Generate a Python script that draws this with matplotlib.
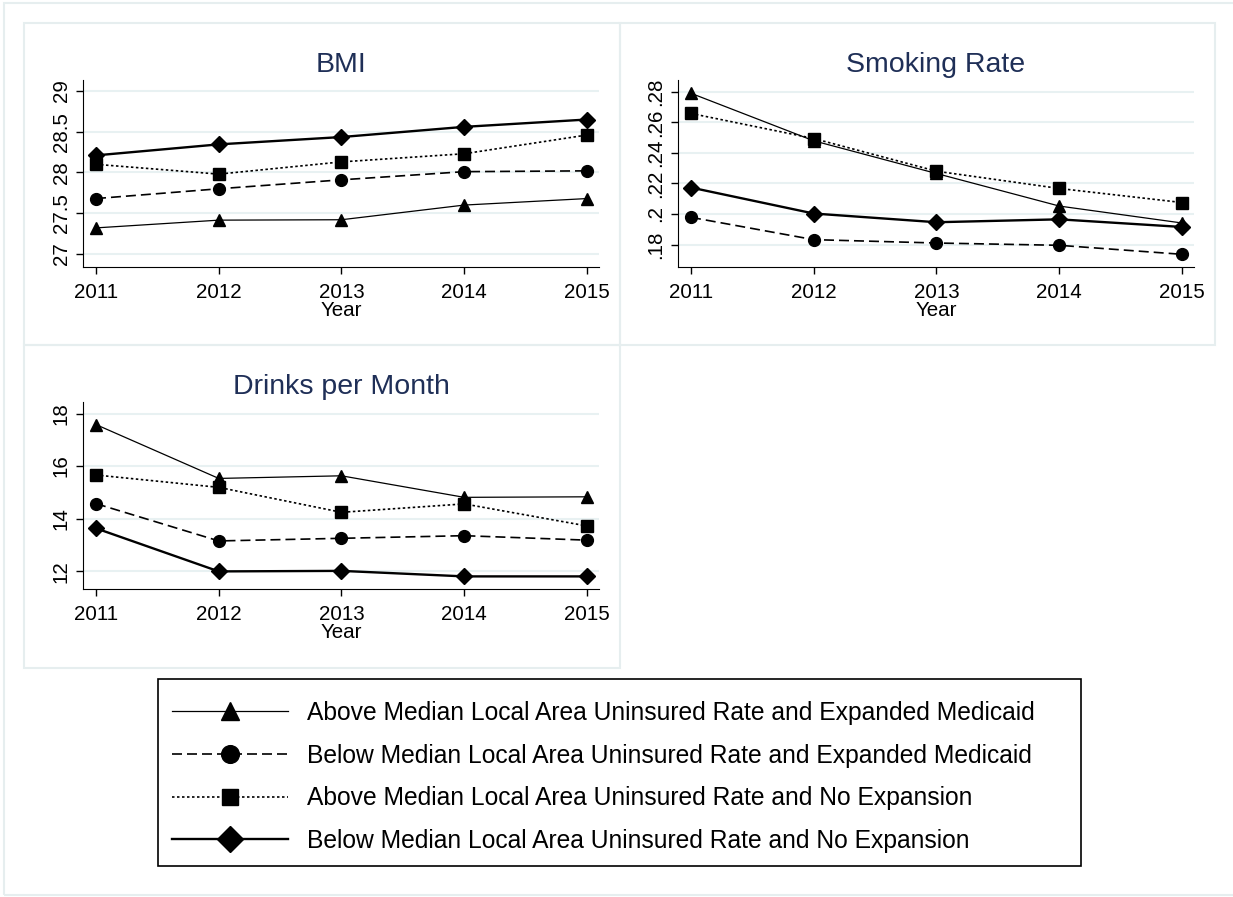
import matplotlib
matplotlib.use('Agg')
import matplotlib.pyplot as plt
from matplotlib.patches import Rectangle
from matplotlib.lines import Line2D

plt.rcParams['font.family'] = ['Liberation Sans', 'DejaVu Sans']

# data
years = [2011, 2012, 2013, 2014, 2015]
labels = ['Above Median Local Area Uninsured Rate and Expanded Medicaid',
          'Below Median Local Area Uninsured Rate and Expanded Medicaid',
          'Above Median Local Area Uninsured Rate and No Expansion',
          'Below Median Local Area Uninsured Rate and No Expansion']

bmi_above_exp = [27.32, 27.415, 27.42, 27.60, 27.68]
bmi_below_exp = [27.68, 27.80, 27.91, 28.01, 28.02]
bmi_above_no = [28.10, 27.98, 28.13, 28.23, 28.46]
bmi_below_no = [28.21, 28.345, 28.435, 28.56, 28.65]

smk_above_exp = [0.279, 0.2479, 0.2265, 0.2052, 0.1941]
smk_below_exp = [0.1978, 0.1832, 0.181, 0.1795, 0.1736]
smk_above_no = [0.2658, 0.2494, 0.228, 0.2167, 0.2075]
smk_below_no = [0.2173, 0.2003, 0.1946, 0.1965, 0.1915]

drk_above_exp = [17.58, 15.53, 15.63, 14.81, 14.83]
drk_below_exp = [14.57, 13.15, 13.25, 13.35, 13.18]
drk_above_no = [15.66, 15.19, 14.24, 14.56, 13.72]
drk_below_no = [13.63, 11.99, 12.01, 11.80, 11.80]

bmi_ticks = [27, 27.5, 28, 28.5, 29]
bmi_ticklabels = ['27', '27.5', '28', '28.5', '29']
smk_ticks = [0.18, 0.20, 0.22, 0.24, 0.26, 0.28]
smk_ticklabels = ['.18', '.2', '.22', '.24', '.26', '.28']
drk_ticks = [12, 14, 16, 18]
drk_ticklabels = ['12', '14', '16', '18']

W, H = 1233, 897
fig = plt.figure(figsize=(W / 100, H / 100), dpi=100)
fig.patch.set_facecolor('white')

border_col = '#e6eeef'
grid_col = '#e8f1f2'
title_col = '#1f2f57'


def px_rect(x0, y0, x1, y1):
    return [x0 / W, 1 - y1 / H, (x1 - x0) / W, (y1 - y0) / H]


def box(x0, y0, x1, y1, col=border_col, lw=1.5):
    r = Rectangle((x0 / W, 1 - y1 / H), (x1 - x0) / W, (y1 - y0) / H,
                  transform=fig.transFigure, fill=False, edgecolor=col, linewidth=lw)
    fig.add_artist(r)


# outer frame and panel frames
box(4, 3, 1240, 895)
box(24, 23, 620, 345)
box(620, 23, 1215, 345)
box(24, 345, 620, 668)

styles = [
    dict(color='black', lw=0.9, ls='-', marker='^', ms=9),
    dict(color='black', lw=1.2, ls=(0, (6, 3)), marker='o', ms=8.5),
    dict(color='black', lw=1.2, ls=(0, (1.5, 1.5)), marker='s', ms=8),
    dict(color='black', lw=1.7, ls='-', marker='D', ms=8.5),
]


def panel(rect, title, series, ylim, ticks, ticklabels):
    ax = fig.add_axes(rect)
    for s, st in zip(series, styles):
        ax.plot(years, s, **st, zorder=3)
    ax.set_xlim(2010.894, 2015.098)
    ax.set_ylim(*ylim)
    ax.set_xticks(years)
    ax.set_yticks(ticks)
    ax.set_yticklabels(ticklabels, rotation=90, va='center')
    ax.tick_params(labelsize=14.8, length=5, width=1, direction='out', pad=4)
    ax.tick_params(axis='x', pad=6.5)
    ax.grid(True, axis='y', color=grid_col, lw=1.5, zorder=0)
    ax.spines['top'].set_visible(False)
    ax.spines['right'].set_visible(False)
    ax.set_xlabel('Year', fontsize=14.8, labelpad=-1)
    ax.set_title(title, fontsize=20.5, color=title_col, pad=6)
    return ax


panel(px_rect(83, 80, 599, 267), 'BMI',
      [bmi_above_exp, bmi_below_exp, bmi_above_no, bmi_below_no],
      (26.84, 29.135), bmi_ticks, bmi_ticklabels)
panel(px_rect(678, 80, 1194, 267), 'Smoking Rate',
      [smk_above_exp, smk_below_exp, smk_above_no, smk_below_no],
      (0.1653, 0.2877), smk_ticks, smk_ticklabels)
panel(px_rect(83, 402, 599, 589), 'Drinks per Month',
      [drk_above_exp, drk_below_exp, drk_above_no, drk_below_no],
      (11.32, 18.44), drk_ticks, drk_ticklabels)

# legend, with its own frame drawn as a box
box(158, 679, 1081, 866, col='black', lw=1.2)
handles = [Line2D([], [], **st) for st in styles]
leg = fig.legend(handles, labels, loc='upper left',
                 bbox_to_anchor=(157 / W, 1 - 686 / H), bbox_transform=fig.transFigure,
                 fontsize=17.75, frameon=False,
                 handlelength=4.7, handletextpad=0.77, labelspacing=0.76,
                 borderpad=0.6, borderaxespad=0, markerscale=1.5)

fig.savefig('out.png', dpi=100, facecolor='white')
